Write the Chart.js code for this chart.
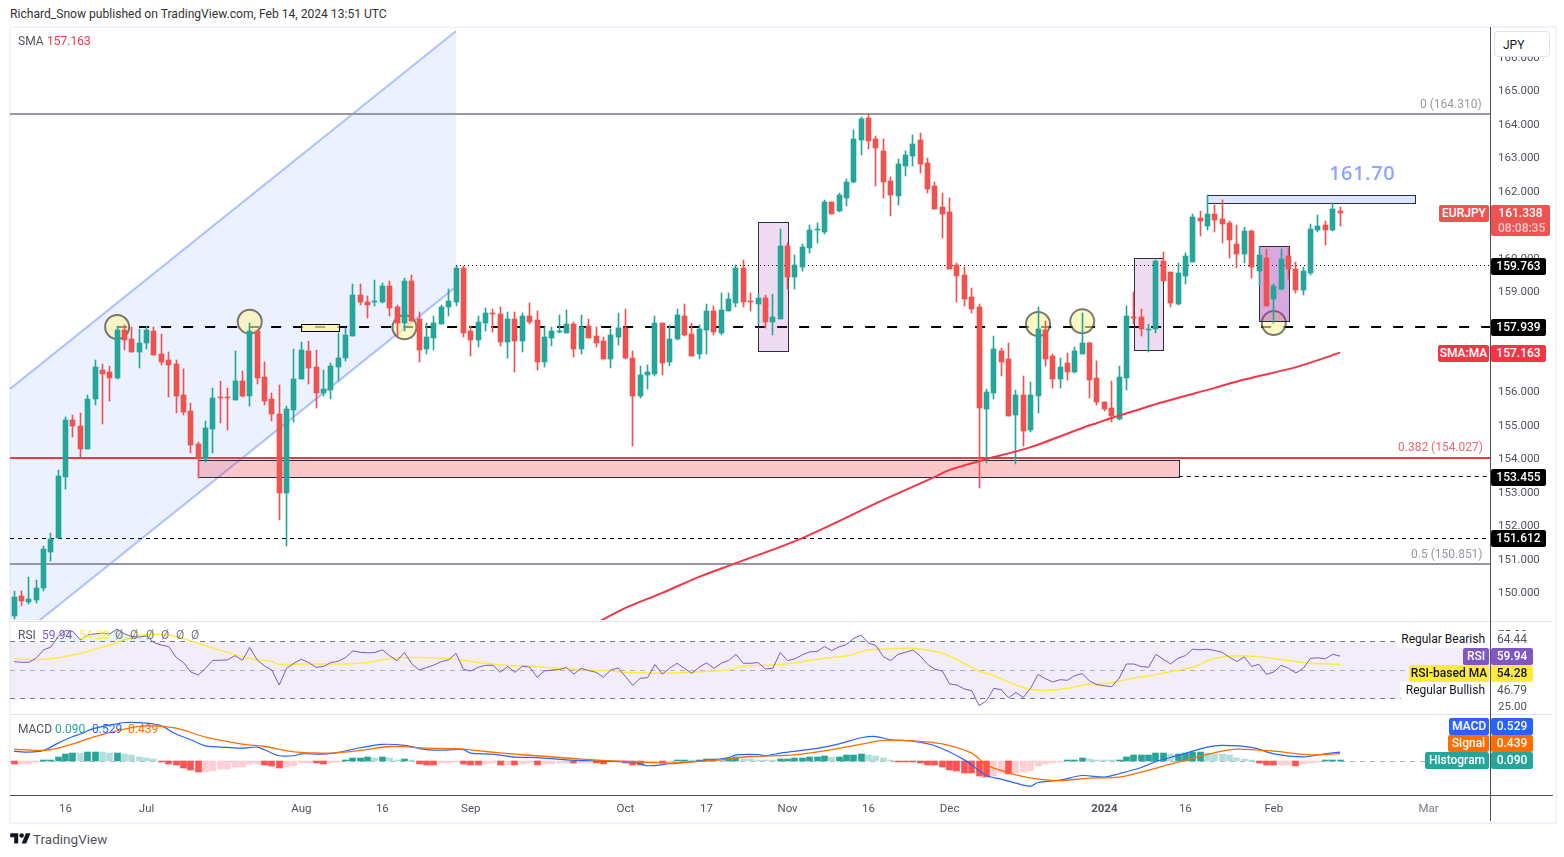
<!DOCTYPE html>
<html>
<head>
<meta charset="utf-8">
<title>EURJPY</title>
<script src="https://cdn.jsdelivr.net/npm/chart.js@4/dist/chart.umd.js"></script>
<style>
  body { margin: 0; background: #fff; overflow: hidden; font-family: Roboto, sans-serif; }
  #frame { position: absolute; left: 9px; top: 26px; width: 1544px; height: 794px; border: 2px solid #f0f3fa; }
  canvas { position: absolute; left: 0; }
  .t { position: absolute; white-space: nowrap; font-size: 12px; }
  .rule { position: absolute; }
</style>
</head>
<body>
<div id="frame"></div>
<canvas id="graficoPreco" width="1555" height="593" style="top:27px"></canvas>
<canvas id="graficoRsi" width="1555" height="92" style="top:622px"></canvas>
<canvas id="graficoMacd" width="1555" height="107" style="top:715px"></canvas>
<div id="textos"></div>

<script>
// EURJPY daily, one entry per bar, bar 0 = early June 2023
const opens = [
  149.28,149.88,149.70,149.76,150.12,151.21,151.63,153.45,155.16,154.98,
  154.29,155.77,156.63,156.57,156.42,157.83,157.56,157.17,157.44,157.80,
  157.11,156.93,156.81,155.91,155.43,154.44,153.99,154.89,155.85,155.85,
  155.76,156.33,155.88,157.80,156.45,155.79,155.34,152.97,155.46,156.39,
  157.20,156.72,155.97,156.06,156.72,156.99,157.65,158.88,158.67,158.67,
  158.67,159.15,158.52,158.04,159.30,158.16,157.26,157.59,158.01,158.52,
  158.67,159.69,157.80,157.53,158.04,158.34,158.31,157.47,158.16,157.50,
  158.25,158.13,156.87,157.59,157.77,157.74,158.01,157.26,157.95,157.65,
  157.50,156.96,157.62,157.89,156.99,155.88,156.51,156.54,158.04,156.87,
  157.56,158.25,157.71,157.11,157.83,158.40,157.74,158.40,158.64,159.69,
  158.70,158.61,158.79,158.07,158.16,160.35,159.42,159.72,160.29,160.83,
  160.77,161.66,161.39,161.78,162.26,163.52,164.18,163.55,163.19,162.29,
  161.84,162.74,163.04,163.52,162.83,162.14,161.51,161.36,159.77,159.50,
  158.84,158.54,155.48,155.96,157.22,156.98,155.30,155.90,154.85,155.87,
  157.85,157.07,156.38,156.86,156.59,157.13,157.46,156.41,155.69,155.51,
  155.18,156.41,158.24,158.24,157.85,157.88,159.89,159.56,158.63,159.47,
  159.86,161.18,160.94,161.30,161.15,161.03,160.40,160.10,160.79,159.59,
  159.98,158.78,159.08,160.04,159.65,159.05,159.53,160.82,160.97,160.82,161.39]
const highs = [
  150.03,150.03,150.45,150.36,151.38,151.76,153.66,155.25,155.31,155.37,
  155.91,156.93,156.81,156.75,157.95,157.98,157.92,157.86,157.95,157.92,
  157.71,157.17,156.93,156.66,155.67,154.50,155.13,156.12,156.33,156.12,
  157.20,156.60,158.04,157.80,156.87,155.97,156.21,155.58,157.26,157.47,
  157.50,157.23,156.63,156.84,157.74,157.89,159.21,159.21,158.85,159.33,
  159.24,159.30,158.58,159.39,159.48,158.37,158.04,158.25,158.58,159.06,
  159.75,159.75,157.95,158.25,158.49,158.46,158.52,158.37,158.37,158.34,
  158.64,158.40,157.92,157.92,158.28,158.43,158.07,158.28,158.16,157.92,
  157.62,157.86,158.34,158.46,157.20,156.75,156.78,158.25,158.04,157.98,
  158.46,158.61,158.04,157.98,158.61,158.55,158.94,158.94,159.78,159.93,
  158.94,158.92,158.88,158.91,160.86,160.44,160.08,160.41,160.98,161.04,
  161.73,161.66,161.93,162.35,163.82,164.21,164.30,163.64,163.55,162.41,
  162.95,163.19,163.67,163.73,162.98,162.26,161.93,161.78,159.83,159.71,
  159.11,158.63,156.08,157.67,157.31,157.46,156.05,156.47,156.29,158.54,
  158.12,157.13,157.01,157.16,157.34,158.36,157.49,156.92,155.69,156.32,
  156.77,158.57,158.99,158.48,158.03,159.92,160.16,159.56,159.83,160.13,
  161.30,161.39,161.87,161.57,161.72,161.09,160.97,160.91,160.82,160.34,
  160.25,159.23,160.25,160.28,159.86,159.71,161.00,161.27,161.09,161.63,161.51]
const lows = [
  149.19,149.58,149.64,149.67,150.03,150.93,151.63,153.10,154.65,154.03,
  154.29,155.61,155.04,155.73,156.39,157.23,157.17,156.69,157.26,157.08,
  156.78,155.85,155.37,155.31,154.17,153.41,153.90,154.17,155.07,154.86,
  155.76,155.85,155.58,156.24,155.61,155.13,152.16,151.38,155.10,156.39,
  156.24,155.52,155.88,155.79,156.33,156.90,157.65,158.58,158.19,158.55,
  158.64,158.25,157.63,157.80,158.10,156.87,157.11,157.23,158.01,158.25,
  158.55,157.62,157.05,157.32,157.80,157.77,157.35,156.99,156.57,157.17,
  158.01,156.63,156.72,157.35,157.74,157.74,157.02,157.11,157.59,157.32,
  156.96,156.69,157.38,156.96,154.38,155.82,156.09,156.48,156.51,156.75,
  157.53,157.65,157.05,156.96,157.11,157.68,157.68,158.40,158.52,158.52,
  158.40,158.01,157.89,157.68,158.16,159.06,159.06,159.60,160.14,160.44,
  160.71,161.30,161.36,161.54,162.23,163.07,163.25,162.14,161.78,161.24,
  161.57,162.44,162.74,162.53,161.93,161.45,160.58,159.65,158.69,158.57,
  158.36,153.11,153.86,155.78,156.47,155.27,153.83,154.37,154.79,155.36,
  156.77,156.11,156.11,156.35,156.56,157.13,155.81,155.60,155.42,155.09,
  155.15,156.05,158.03,157.67,157.19,157.76,159.32,158.54,158.60,159.23,
  159.86,160.64,160.82,160.76,160.43,159.98,159.68,159.83,159.41,159.17,
  158.57,158.06,159.05,159.38,158.96,158.90,159.50,160.76,160.37,160.79,160.94]
const closes = [
  149.85,149.73,149.79,150.12,151.29,151.58,153.48,155.16,154.98,154.27,
  155.79,156.72,156.54,156.42,157.83,157.53,157.17,157.44,157.83,157.08,
  156.87,156.78,155.88,155.40,154.41,153.99,154.92,155.82,155.82,155.82,
  156.33,155.88,157.80,156.42,155.73,155.34,152.97,155.49,156.39,157.23,
  156.69,155.97,156.09,156.75,156.99,157.68,158.88,158.67,158.58,158.70,
  159.15,158.49,158.04,159.30,158.10,157.23,157.62,158.04,158.52,158.70,
  159.69,157.74,157.53,158.07,158.34,158.31,157.47,158.16,157.50,158.25,
  158.07,156.87,157.62,157.80,157.80,158.01,157.26,157.92,157.59,157.44,
  156.96,157.68,157.89,156.99,155.88,156.51,156.57,158.04,156.84,157.56,
  158.28,157.68,157.05,157.86,158.40,157.77,158.43,158.76,159.69,158.67,
  158.67,158.79,158.07,158.22,160.35,159.42,159.78,160.32,160.83,160.86,
  161.67,161.30,161.87,162.26,163.55,164.15,163.49,163.28,162.26,161.87,
  162.80,163.07,163.40,162.80,162.05,161.45,161.30,159.65,159.47,158.78,
  158.48,155.51,155.99,157.28,156.89,155.27,155.90,154.82,155.90,157.88,
  156.98,156.38,156.74,156.59,157.22,157.46,156.35,155.69,155.48,155.27,
  156.44,158.27,158.21,157.88,157.88,159.89,159.32,158.66,159.53,160.04,
  161.21,161.09,161.30,161.12,161.00,160.52,160.10,160.79,159.71,160.07,
  158.57,159.17,159.95,159.65,159.05,159.59,160.85,160.94,160.82,161.45,161.34]

const smaIdx = [78,83,88,93,98,107,118,125,127,131,138,145,147,149,156,163,167,174,180]
const smaLine = [148.95,149.53,149.98,150.46,150.87,151.62,152.76,153.45,153.66,153.92,154.34,154.91,155.06,155.21,155.69,156.11,156.36,156.73,157.163]

const rsiValues = [
  56.1,55.6,55.6,58.4,64.3,66.2,73.7,77.9,77.2,71.3,
  74.8,75.5,76.0,75.5,78.8,75.5,73.7,73.2,74.1,69.4,
  67.6,66.6,59.1,55.4,48.8,46.7,51.4,57.0,57.0,57.3,
  60.3,57.0,65.9,57.3,53.0,50.2,39.7,51.4,54.9,57.7,
  55.4,52.1,52.6,55.4,56.3,58.9,63.6,62.6,62.2,62.4,
  64.3,60.1,56.8,62.4,54.4,50.2,51.9,53.7,56.1,57.3,
  61.9,50.7,49.5,52.1,53.5,53.5,48.6,52.6,48.6,
  52.8,52.3,45.1,49.5,50.2,50.5,51.9,47.4,51.4,49.8,
  48.6,45.1,50.2,51.6,45.6,39.5,44.4,44.8,54.0,47.4,
  51.4,54.9,51.4,47.9,52.1,55.2,51.4,54.9,56.8,61.2,
  54.9,54.9,55.4,50.9,51.4,62.4,56.8,58.0,60.8,62.9,
  63.1,66.6,63.8,66.4,68.0,72.5,74.6,69.0,67.3,59.6,
  56.8,61.2,62.6,64.1,60.1,54.2,50.7,49.5,40.4,39.7,
  36.9,35.7,25.4,28.5,37.4,36.4,30.8,34.5,
  31.0,37.4,47.2,44.1,41.8,43.4,43.0,46.3,47.7,42.5,
  39.9,39.2,38.5,44.4,54.4,54.4,52.6,52.1,61.2,57.7,
  54.4,58.4,60.3,64.8,64.3,64.8,63.8,62.6,59.1,56.1,
  59.4,52.6,54.2,47.2,48.8,53.5,51.4,48.1,51.4,58.4,
  58.7,58.0,61.2,59.94]
const rsiMaIdx = [0,2,4,6,9,12,15,17,20,22,24,27,30,32,35,36,39,42,45,48,51,53,57,59,62,65,68,69,72,76,80,84,88,91,97,99,104,109,113,116,118,122,126,130,131,133,136,138,140,143,146,149,152,154,157,160,163,167,171,174,176,180]
const rsiMa = [58.0,57.5,57.5,58.7,61.9,66.2,71.3,74.4,75.1,73.7,70.6,65.5,61.0,58.2,56.1,54.2,54.4,54.4,54.4,55.4,58.2,58.9,58.7,58.2,56.1,54.4,53.0,53.3,52.1,50.7,49.8,48.4,47.9,48.4,50.2,52.8,54.0,57.7,60.1,64.3,64.8,65.5,61.9,52.1,49.5,46.3,39.7,36.7,35.9,37.4,40.4,41.3,44.6,46.0,49.1,52.1,58.4,60.1,58.2,56.1,54.9,54.28]

const macdIdx = [0,2,4,6,8,9,11,14,15,18,20,22,24,26,29,31,33,34,36,38,39,42,44,47,50,53,56,58,61,62,65,68,71,75,80,84,86,89,93,97,98,101,102,104,109,112,115,117,119,122,125,129,132,134,136,138,139,142,145,148,150,153,155,158,162,164,168,171,175,178,180]
const macdLine = [.58,.52,.62,1.03,1.40,1.54,1.87,2.12,2.19,2.15,2.00,1.54,1.22,.88,.79,.75,.81,.66,.32,.32,.43,.41,.51,.77,.96,.90,.66,.64,.66,.47,.41,.24,.22,.09,.02,-.04,-.24,-.13,.02,.21,.37,.39,.32,.47,.73,.99,1.33,1.40,1.22,1.14,.88,.09,-.79,-.99,-1.22,-1.39,-1.18,-1.05,-.79,-.88,-.69,-.34,0,.34,.81,.90,.79,.43,.26,.43,.529]
const signalIdx = [0,3,5,8,11,15,18,22,26,31,34,38,43,47,51,56,61,64,68,71,77,83,89,95,100,106,111,115,118,122,126,130,132,134,136,139,142,146,150,153,158,163,166,171,176,180]
const signalLine = [.69,.62,.66,.99,1.40,1.82,2.00,1.87,1.37,.97,.84,.54,.47,.62,.84,.75,.69,.56,.41,.32,.13,0,-.09,.06,.28,.37,.66,.97,1.18,1.16,.99,.47,-.19,-.51,-.75,-.99,-1.07,-.94,-.88,-.60,-.04,.49,.69,.58,.37,.439]
const histValues = [
  -.14,-.13,-.12,-.03,.03,.08,.26,.43,.49,.47,
  .54,.55,.54,.49,.50,.43,.37,.24,.21,.15,
  -.02,-.17,-.22,-.36,-.49,-.58,-.57,-.51,-.43,-.41,
  -.30,-.29,-.13,-.12,-.20,-.24,-.39,-.30,-.24,-.11,
  -.08,-.09,-.13,-.06,-.02,.08,.21,.22,.26,.21,
  .26,.21,.08,.15,.01,-.13,-.19,-.20,-.11,-.10,
  -.01,-.13,-.19,-.20,-.17,-.11,-.19,-.18,-.19,-.17,
  -.10,-.18,-.17,-.16,-.11,-.10,-.11,-.10,-.09,-.11,
  -.12,-.05,-.02,-.06,-.19,-.20,-.10,-.09,-.11,-.03,
  .08,.09,.08,.09,.13,.14,.09,.21,.26,.15,
  .12,.11,.09,.01,.15,.16,.17,.21,.26,.27,
  .28,.26,.27,.34,.38,.43,.38,.32,.21,.02,
  -.02,-.03,-.04,-.07,-.19,-.22,-.30,-.47,-.52,-.64,
  -.65,-.81,-.87,-.81,-.66,-.70,-.66,-.62,-.52,-.28,
  -.17,-.11,-.05,.03,.07,.21,.15,.09,.02,.01,
  .08,.26,.34,.37,.38,.49,.50,.43,.44,.49,
  .54,.55,.49,.43,.42,.34,.21,.13,.02,-.07,
  -.19,-.20,-.19,-.18,-.24,-.17,-.11,-.03,.03,.07,.09]

const priceTicks = [150,151,152,153,154,155,156,157,158,159,160,161,162,163,164,165,166]
const rsiTicks = [25,50,75]
const timeTicks = [7,18,39,50,62,83,94,105,116,127,148,159,171,192]
const timeLabels = ['16','Jul','Aug','16','Sep','Oct','17','Nov','16','Dec','2024','16','Feb','Mar']

const verde = '#26a69a'
const vermelho = '#ef5350'
const escalaX = { type: 'linear', min: -0.543, max: 200.35, offset: false, display: false, grid: { display: false } }
const fonteEixo = { family: 'Roboto', size: 11.5 }

// the panes must fill their canvas exactly so all three share the same x mapping
function fixaEixoY(eixo) {
  eixo.width = 65
  eixo.paddingTop = 0
  eixo.paddingBottom = 0
}

function pares(indices, valores) {
  return valores.map((v, n) => ({ x: indices[n], y: v }))
}

const pontosVelas = opens.map((o, i) => ({ x: i, y: [Math.min(o, closes[i]), Math.max(o, closes[i])] }))
const pontosPavios = opens.map((o, i) => ({ x: i, y: [lows[i], highs[i]] }))
const corVela = ctx => closes[ctx.dataIndex] >= opens[ctx.dataIndex] ? verde : vermelho

// snap bars to whole pixels, the canvas otherwise blurs 1px wicks
const pluginNitido = {
  id: 'nitido',
  afterDatasetsUpdate(chart) {
    chart.getSortedVisibleDatasetMetas().forEach(meta => {
      if (meta.type !== 'bar') return
      meta.data.forEach(b => {
        b.x = Math.floor(b.x) + 0.5
        b.y = Math.round(b.y)
        b.base = Math.round(b.base)
        if (b.y === b.base) b.y = b.base - 1
      })
    })
  }
}

function linhaH(chart, valor, de, ate, cor, largura, traco) {
  const { ctx, scales: { x, y } } = chart
  let py = y.getPixelForValue(valor)
  py = largura % 2 ? Math.floor(py) + 0.5 : Math.round(py)
  ctx.save()
  ctx.strokeStyle = cor
  ctx.lineWidth = largura
  ctx.setLineDash(traco || [])
  ctx.beginPath()
  ctx.moveTo(x.getPixelForValue(de), py)
  ctx.lineTo(x.getPixelForValue(ate), py)
  ctx.stroke()
  ctx.restore()
}

function caixa(chart, i0, i1, topo, base, fundo, borda) {
  const { ctx, scales: { x, y } } = chart
  const x0 = Math.round(x.getPixelForValue(i0)) + 0.5
  const x1 = Math.round(x.getPixelForValue(i1)) + 0.5
  const y0 = Math.round(y.getPixelForValue(topo)) + 0.5
  const y1 = Math.round(y.getPixelForValue(base)) + 0.5
  ctx.save()
  ctx.fillStyle = fundo
  ctx.fillRect(x0, y0, x1 - x0, y1 - y0)
  ctx.strokeStyle = borda
  ctx.lineWidth = 1
  ctx.strokeRect(x0, y0, x1 - x0, y1 - y0)
  ctx.restore()
}

function circulo(chart, i, preco) {
  const { ctx, scales: { x, y } } = chart
  ctx.save()
  ctx.beginPath()
  ctx.arc(x.getPixelForValue(i), y.getPixelForValue(preco), 12, 0, Math.PI * 2)
  ctx.fillStyle = 'rgba(255,245,157,.6)'
  ctx.fill()
  ctx.strokeStyle = 'rgba(50,50,50,.65)'
  ctx.lineWidth = 2
  ctx.stroke()
  ctx.restore()
}

function canal(chart) {
  const { ctx, chartArea: a, scales: { x, y } } = chart
  const sup = [[-0.543, 156.08], [60, 166.78]]
  const inf = [[-0.543, 148.45], [60, 159.13]]
  const px = p => [x.getPixelForValue(p[0]), y.getPixelForValue(p[1])]
  ctx.save()
  ctx.beginPath()
  ctx.rect(a.left, a.top, a.right - a.left, a.bottom - a.top)
  ctx.clip()
  ctx.beginPath()
  ctx.moveTo(...px(sup[0]))
  ctx.lineTo(...px(sup[1]))
  ctx.lineTo(...px(inf[1]))
  ctx.lineTo(...px(inf[0]))
  ctx.closePath()
  ctx.fillStyle = 'rgba(41,98,255,.09)'
  ctx.fill()
  ctx.strokeStyle = 'rgba(41,98,255,.36)'
  ctx.lineWidth = 2
  ;[sup, inf].forEach(l => {
    ctx.beginPath()
    ctx.moveTo(...px(l[0]))
    ctx.lineTo(...px(l[1]))
    ctx.stroke()
  })
  ctx.restore()
}

const pluginDesenhos = {
  id: 'desenhos',
  beforeDatasetsDraw(chart) {
    const fim = 200.35
    canal(chart)
    caixa(chart, 25, 158.1, 153.96, 153.455, 'rgba(242,54,69,.28)', '#2a2e39')
    linhaH(chart, 164.31, -0.543, fim, '#9598a1', 2)
    linhaH(chart, 150.851, -0.543, fim, '#9598a1', 2)
    linhaH(chart, 154.027, -0.543, fim, '#f23645', 2)
    linhaH(chart, 151.612, -0.543, fim, '#000', 1, [4, 4])
    linhaH(chart, 153.455, 158.1, fim, '#000', 1, [4, 4])
    linhaH(chart, 159.763, 60, fim, '#000', 1, [1, 3])
    linhaH(chart, 157.939, 14, fim, '#000', 2, [10, 12])
    circulo(chart, 14, 157.93)
    circulo(chart, 32, 158.09)
    circulo(chart, 53, 157.92)
    circulo(chart, 139, 158.02)
    circulo(chart, 145, 158.10)
    circulo(chart, 171, 158.05)
    caixa(chart, 39, 44.1, 158.01, 157.80, 'rgba(255,245,157,.7)', '#000')
    caixa(chart, 101, 105, 161.08, 157.20, 'rgba(156,39,176,.16)', '#2a2e39')
    caixa(chart, 152, 156, 159.98, 157.23, 'rgba(156,39,176,.16)', '#2a2e39')
    caixa(chart, 169, 173, 160.34, 158.10, 'rgba(156,39,176,.4)', '#2a2e39')
    caixa(chart, 162, 190.2, 161.87, 161.63, 'rgba(41,98,255,.17)', '#2a2e39')
  }
}

const pluginBandaRsi = {
  id: 'bandaRsi',
  beforeDatasetsDraw(chart) {
    const { ctx, chartArea: a, scales: { y } } = chart
    const y70 = y.getPixelForValue(70)
    const y30 = y.getPixelForValue(30)
    ctx.save()
    ctx.fillStyle = 'rgba(126,87,194,.1)'
    ctx.fillRect(a.left, y70, a.right - a.left, y30 - y70)
    ctx.restore()
    linhaH(chart, 70, -0.543, 200.35, '#787b86', 1, [5, 5])
    linhaH(chart, 50, -0.543, 200.35, 'rgba(120,123,134,.55)', 1, [5, 5])
    linhaH(chart, 30, -0.543, 200.35, '#787b86', 1, [5, 5])
  }
}

const pluginZeroMacd = {
  id: 'zeroMacd',
  beforeDatasetsDraw(chart) {
    linhaH(chart, 0, -0.543, 200.35, 'rgba(120,123,134,.6)', 1, [5, 5])
  }
}

new Chart(document.getElementById('graficoPreco'), {
  type: 'bar',
  plugins: [pluginNitido, pluginDesenhos],
  data: {
    datasets: [
      { type: 'line', data: pares(smaIdx, smaLine), borderColor: '#f23645', borderWidth: 2, pointRadius: 0, tension: 0.3, order: 0 },
      { data: pontosVelas, backgroundColor: corVela, barThickness: 5, grouped: false, order: 1 },
      { data: pontosPavios, backgroundColor: corVela, barThickness: 1, grouped: false, order: 2 }
    ]
  },
  options: {
    responsive: false,
    animation: false,
    layout: { padding: { left: 10 } },
    plugins: { legend: { display: false }, tooltip: { enabled: false } },
    scales: {
      x: escalaX,
      y: {
        position: 'right', min: 149.17, max: 166.9,
        grid: { display: false, drawTicks: false }, border: { display: false },
        afterBuildTicks: eixo => { eixo.ticks = priceTicks.map(v => ({ value: v })) },
        afterFit: fixaEixoY,
        ticks: { autoSkip: false, padding: 8, labelOffset: 1, color: '#50535e', font: fonteEixo, callback: v => v.toFixed(3) }
      }
    }
  }
})

new Chart(document.getElementById('graficoRsi'), {
  type: 'line',
  plugins: [pluginBandaRsi],
  data: {
    datasets: [
      {
        data: rsiValues.map((v, i) => ({ x: i, y: v })), borderColor: '#7e57c2', borderWidth: 1, pointRadius: 0, order: 0,
        fill: { target: { value: 70 }, above: 'rgba(38,166,154,.12)', below: 'transparent' }
      },
      { data: pares(rsiMaIdx, rsiMa), borderColor: '#ffeb3b', borderWidth: 1.5, pointRadius: 0, tension: 0.3, order: 1 }
    ]
  },
  options: {
    responsive: false,
    animation: false,
    layout: { padding: { left: 10 } },
    plugins: { legend: { display: false }, tooltip: { enabled: false } },
    scales: {
      x: escalaX,
      y: {
        position: 'right', min: 19.4, max: 83.8,
        grid: { display: false, drawTicks: false }, border: { display: false },
        afterBuildTicks: eixo => { eixo.ticks = rsiTicks.map(v => ({ value: v })) },
        afterFit: fixaEixoY,
        ticks: { autoSkip: false, padding: 8, labelOffset: 1, color: '#50535e', font: fonteEixo, callback: v => v.toFixed(2) }
      }
    }
  }
})

new Chart(document.getElementById('graficoMacd'), {
  type: 'bar',
  plugins: [pluginNitido, pluginZeroMacd],
  data: {
    datasets: [
      { type: 'line', data: pares(signalIdx, signalLine), borderColor: '#ff6d00', borderWidth: 1.3, pointRadius: 0, tension: 0.3, order: 0 },
      { type: 'line', data: pares(macdIdx, macdLine), borderColor: '#2962ff', borderWidth: 1.2, pointRadius: 0, tension: 0.3, order: 1 },
      {
        data: histValues.map((v, i) => ({ x: i, y: v })),
        barThickness: 6, order: 2,
        backgroundColor: ctx => {
          const v = histValues[ctx.dataIndex]
          const subiu = ctx.dataIndex > 0 && histValues[ctx.dataIndex - 1] < v
          if (v >= 0) return subiu ? '#26a69a' : '#b2dfdb'
          return subiu ? '#ffcdd2' : '#ff5252'
        }
      }
    ]
  },
  options: {
    responsive: false,
    animation: false,
    layout: { padding: { left: 10 } },
    plugins: { legend: { display: false }, tooltip: { enabled: false } },
    scales: {
      x: {
        ...escalaX,
        display: true,
        grid: { display: false, drawTicks: false },
        border: { display: false },
        afterBuildTicks: eixo => { eixo.ticks = timeTicks.map(v => ({ value: v })) },
        afterFit: eixo => {
          eixo.height = 27
          eixo.paddingLeft = 0
          eixo.paddingRight = 0
        },
        ticks: {
          autoSkip: false, maxRotation: 0, padding: 7,
          color: ctx => ctx.tick && ctx.tick.value === 192 ? '#787b86' : '#50535e',
          font: ctx => ({ family: 'Roboto', size: 11.5, weight: ctx.tick && ctx.tick.value === 148 ? 'bold' : 'normal' }),
          callback: v => timeLabels[timeTicks.indexOf(v)]
        }
      },
      y: {
        position: 'right', min: -1.884, max: 2.61,
        grid: { display: false }, border: { display: false },
        afterFit: fixaEixoY,
        ticks: { display: false }
      }
    }
  }
})

// text and tags on top of the canvases
const textos = document.getElementById('textos')

function texto(conteudo, x, y, cor, extra) {
  const d = document.createElement('div')
  d.className = 't'
  d.textContent = conteudo
  d.style.left = x + 'px'
  d.style.top = (y - 8) + 'px'
  d.style.lineHeight = '16px'
  d.style.color = cor
  Object.assign(d.style, extra || {})
  textos.appendChild(d)
  return d
}

function etiqueta(conteudo, x0, x1, y0, y1, fundo, cor, extra) {
  const d = document.createElement('div')
  d.className = 't'
  d.textContent = conteudo
  Object.assign(d.style, {
    left: x0 + 'px', top: y0 + 'px', width: (x1 - x0) + 'px', height: (y1 - y0) + 'px',
    lineHeight: (y1 - y0) + 'px', background: fundo, color: cor, textAlign: 'center', borderRadius: '2px', fontWeight: '500'
  }, extra || {})
  textos.appendChild(d)
  return d
}

function regra(x, y, l, a, cor) {
  const d = document.createElement('div')
  d.className = 'rule'
  Object.assign(d.style, { left: x + 'px', top: y + 'px', width: l + 'px', height: a + 'px', background: cor })
  textos.appendChild(d)
}

regra(11, 621, 1542, 1, '#e0e3eb')
regra(11, 714, 1542, 1, '#e0e3eb')
regra(10, 795, 1543, 1, '#50535e')
regra(1490, 27, 1, 794, '#50535e')

texto('Richard_Snow published on TradingView.com, Feb 14, 2024 13:51 UTC', 10, 14, '#333', { fontSize: '12.1px' })
texto('SMA', 18, 41, '#50535e')
texto('157.163', 47, 41, '#f23645')
texto('161.70', 1329, 173, '#8fa8fa', { fontSize: '20px', fontWeight: '600', fontFamily: 'Open Sans', letterSpacing: '0.6px' })
texto('0 (164.310)', 1420, 104, '#9598a1')
texto('0.382 (154.027)', 1398, 447, '#e5676f')
texto('0.5 (150.851)', 1411, 554, '#9598a1')

etiqueta('JPY', 1494, 1550, 31, 57, '#fff', '#131722', { border: '1px solid #e0e3eb', boxSizing: 'border-box', borderRadius: '4px', textAlign: 'left', paddingLeft: '8px', fontWeight: '400' })
etiqueta('EURJPY', 1439, 1489, 205, 222, vermelho, '#fff')
etiqueta('161.338', 1491, 1550, 205, 236, vermelho, '#fff', { lineHeight: '16px' })
texto('08:08:35', 1498, 228, '#ffcdd2', { fontWeight: '500' })
etiqueta('159.763', 1491, 1546, 258, 275, '#000', '#fff')
etiqueta('157.939', 1491, 1546, 319, 336, '#000', '#fff')
etiqueta('153.455', 1491, 1546, 469, 486, '#000', '#fff')
etiqueta('151.612', 1491, 1546, 530, 547, '#000', '#fff')
etiqueta('SMA:MA', 1438, 1489, 345, 362, '#f23645', '#fff')
etiqueta('157.163', 1491, 1546, 345, 362, '#f23645', '#fff')

texto('RSI', 18, 635, '#50535e')
texto('59.94', 42, 635, '#7e57c2')
texto('54.28', 79, 635, '#ffeb3b')
;[115, 130, 146, 161, 176, 191].forEach(x => texto('Ø', x, 635, '#787b86'))

etiqueta('Regular Bearish', 1397, 1490, 631, 648, '#fff', '#131722', { fontWeight: '400', textAlign: 'right', paddingRight: '5px', boxSizing: 'border-box' })
etiqueta('64.44', 1491, 1533, 631, 648, '#fff', '#50535e', { fontWeight: '400' })
etiqueta('RSI', 1463, 1489, 648, 665, '#7e57c2', '#fff')
etiqueta('59.94', 1491, 1533, 648, 665, '#7e57c2', '#fff')
etiqueta('RSI-based MA', 1409, 1489, 665, 682, '#ffeb3b', '#131722')
etiqueta('54.28', 1491, 1533, 665, 682, '#ffeb3b', '#131722')
etiqueta('Regular Bullish', 1400, 1490, 682, 699, '#fff', '#131722', { fontWeight: '400', textAlign: 'right', paddingRight: '5px', boxSizing: 'border-box' })
etiqueta('46.79', 1491, 1533, 682, 699, '#fff', '#50535e', { fontWeight: '400' })

texto('MACD', 18, 729, '#50535e')
texto('0.090', 55, 729, '#26a69a')
texto('0.529', 92, 729, '#2962ff')
texto('0.439', 128, 729, '#ff6d00')
etiqueta('MACD', 1449, 1489, 718, 735, '#2962ff', '#fff')
etiqueta('0.529', 1491, 1533, 718, 735, '#2962ff', '#fff')
etiqueta('Signal', 1448, 1489, 735, 752, '#ff6d00', '#fff')
etiqueta('0.439', 1491, 1533, 735, 752, '#ff6d00', '#fff')
etiqueta('Histogram', 1425, 1489, 752, 769, '#26a69a', '#fff')
etiqueta('0.090', 1491, 1533, 752, 769, '#26a69a', '#fff')

// logo + wordmark at the bottom
const logo = document.createElement('div')
logo.innerHTML = '<svg width="21" height="16" viewBox="0 0 36 28" style="position:absolute;left:10px;top:831px"><path fill="#131722" d="M14 22H7V11H0V4h14v18zM28 22h-8l7.5-18h8L28 22z"/><circle fill="#131722" cx="20" cy="8" r="4"/></svg>'
textos.appendChild(logo)
texto('TradingView', 33, 839, '#50535e', { fontSize: '13.5px' })
</script>
</body>
</html>
